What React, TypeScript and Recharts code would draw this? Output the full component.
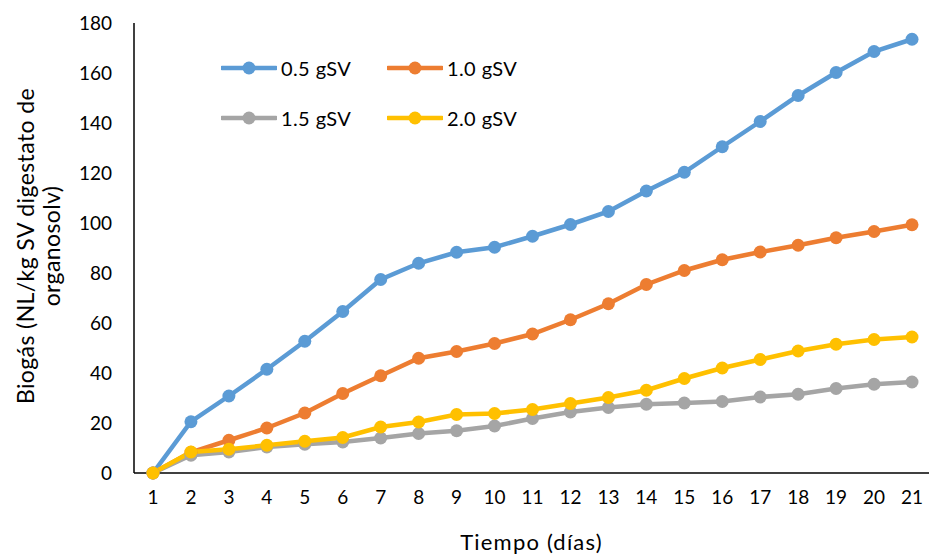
import { LineChart, Line, XAxis, YAxis, Label } from "recharts";

const dias = [1, 2, 3, 4, 5, 6, 7, 8, 9, 10, 11, 12, 13, 14, 15, 16, 17, 18, 19, 20, 21];

const serie05 = [0, 20.5, 30.8, 41.5, 52.7, 64.6, 77.4, 83.9, 88.3, 90.3, 94.7, 99.4, 104.6, 112.8, 120.3, 130.5, 140.6, 151, 160.2, 168.6, 173.5];
const serie10 = [0, 8.3, 13.1, 18, 24, 31.8, 38.9, 45.9, 48.6, 51.8, 55.6, 61.3, 67.7, 75.4, 81, 85.3, 88.4, 91.1, 94.1, 96.6, 99.3];
const serie15 = [0, 7.1, 8.4, 10.4, 11.5, 12.4, 14, 15.8, 16.9, 18.8, 21.8, 24.4, 26.2, 27.5, 28, 28.6, 30.4, 31.5, 33.8, 35.5, 36.4];
const serie20 = [0, 8.4, 9.5, 11.1, 12.7, 14.2, 18.4, 20.4, 23.4, 23.8, 25.4, 27.8, 30.2, 33.1, 37.8, 42, 45.4, 48.8, 51.5, 53.4, 54.4];

const yTicks = [0, 20, 40, 60, 80, 100, 120, 140, 160, 180];

const SERIES = [
  { key: "s05", name: "0.5 gSV", color: "#5B9BD5" },
  { key: "s10", name: "1.0 gSV", color: "#ED7D31" },
  { key: "s15", name: "1.5 gSV", color: "#A5A5A5" },
  { key: "s20", name: "2.0 gSV", color: "#FFC000" },
];

const data = dias.map((d, i) => ({
  dia: String(d),
  s05: serie05[i],
  s10: serie10[i],
  s15: serie15[i],
  s20: serie20[i],
}));

const FONT = "Lato, 'Noto Sans', sans-serif";

// legend sits inside the plot, two by two, like the Excel original
function LegendBox() {
  return (
    <div
      style={{
        position: "absolute",
        left: 221,
        top: 57,
        display: "grid",
        gridTemplateColumns: "166px 166px",
        rowGap: 28,
        fontFamily: FONT,
        fontSize: 20,
        letterSpacing: 0.4,
        color: "#000",
      }}
    >
      {SERIES.map((s) => (
        <div key={s.key} style={{ display: "flex", alignItems: "center", height: 22 }}>
          <svg width={56} height={16} style={{ marginRight: 4 }}>
            <line x1={1} y1={8} x2={55} y2={8} stroke={s.color} strokeWidth={4.5} strokeLinecap="round" />
            <circle cx={28} cy={8} r={6.5} fill={s.color} />
          </svg>
          <span>{s.name}</span>
        </div>
      ))}
    </div>
  );
}

function YTitle({ viewBox }: any) {
  const cy = viewBox ? viewBox.y + viewBox.height / 2 : 248;
  return (
    <text
      transform={`translate(0, ${cy - 2}) rotate(-90)`}
      textAnchor="middle"
      fontFamily={FONT}
      fontSize={23}
      letterSpacing={0.4}
      fill="#000"
    >
      <tspan x={0} y={34}>Biogás (NL/kg SV digestato de</tspan>
      <tspan x={0} y={60}>organosolv)</tspan>
    </text>
  );
}

export default function App() {
  return (
    <div style={{ position: "absolute", left: 0, top: 0, width: 929, height: 554, background: "#fff" }}>
      <LineChart width={929} height={554} data={data} margin={{ top: 23, right: 0, bottom: 0, left: 0 }}>
        <XAxis
          dataKey="dia"
          padding={{ left: 19, right: 17 }}
          axisLine={{ stroke: "#000", strokeWidth: 1.5 }}
          tickLine={false}
          tickMargin={12}
          height={81}
          tick={{ fill: "#000", fontFamily: FONT, fontSize: 19 }}
        >
          <Label
            value="Tiempo (días)"
            position="insideBottom"
            offset={4}
            fill="#000"
            fontFamily={FONT}
            fontSize={22}
            letterSpacing={1.2}
          />
        </XAxis>
        <YAxis
          domain={[0, 180]}
          ticks={yTicks}
          width={134}
          axisLine={{ stroke: "#000", strokeWidth: 1.5 }}
          tickLine={false}
          tickMargin={16}
          tick={{ fill: "#000", fontFamily: FONT, fontSize: 19 }}
        >
          <Label content={<YTitle />} />
        </YAxis>
        {SERIES.map((s) => (
          <Line
            key={s.key}
            type="linear"
            dataKey={s.key}
            name={s.name}
            stroke={s.color}
            strokeWidth={4.5}
            dot={{ r: 6.5, fill: s.color, stroke: s.color, strokeWidth: 0 }}
            activeDot={false}
            isAnimationActive={false}
          />
        ))}
      </LineChart>
      <LegendBox />
    </div>
  );
}
